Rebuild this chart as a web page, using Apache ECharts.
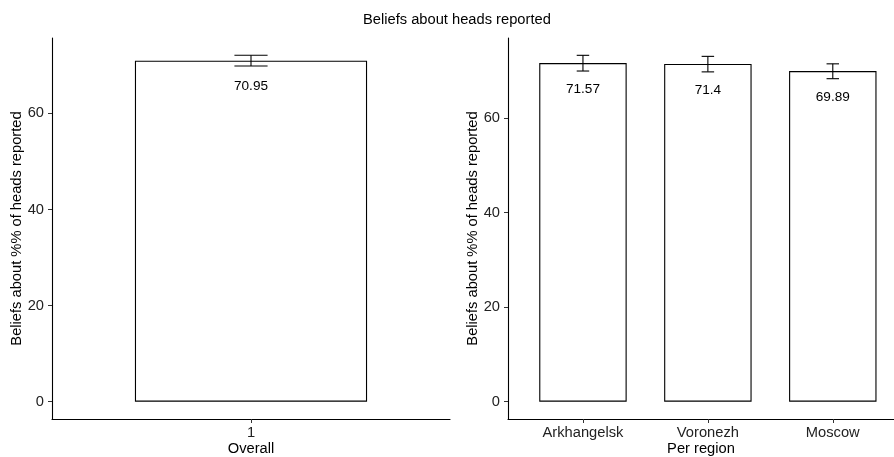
<!DOCTYPE html>
<html><head><meta charset="utf-8">
<script src="https://cdn.jsdelivr.net/npm/echarts@6/dist/echarts.min.js"></script>
<style>html,body{margin:0;padding:0;background:#fff}#c{width:894px;height:457px}</style>
</head><body><div id="c"></div>
<script>
const overallCategories = ['1'];
const overallValues = [70.95];
const overallLower = [69.85];
const overallUpper = [72.08];

const regionCategories = ['Arkhangelsk', 'Voronezh', 'Moscow'];
const regionValues = [71.57, 71.4, 69.89];
const regionLower = [69.9, 69.72, 68.28];
const regionUpper = [73.22, 73.0, 71.42];

const yTicks = [0, 20, 40, 60];
const FONT = 'Liberation Sans, Arial, Helvetica, sans-serif';

function pos(cats) { return cats.map((c, i) => i + 1); }

const chart = echarts.init(document.getElementById('c'), null, {renderer: 'canvas'});

function xAxisFor(cats, gridIndex, name, max) {
  const vals = pos(cats);
  return {
    type: 'value', gridIndex, min: 0.4, max,
    name, nameLocation: 'middle', nameGap: 22, nameMoveOverlap: false,
    nameTextStyle: {fontFamily: FONT, fontSize: 14.7, color: '#000', verticalAlign: 'top'},
    axisLine: {show: true, onZero: false, lineStyle: {color: '#000', width: 1.1}},
    axisTick: {show: true, length: 4, lineStyle: {color: '#333'}, customValues: vals},
    axisLabel: {show: true, customValues: vals, margin: 6, fontFamily: FONT, fontSize: 14.7, color: '#222',
      formatter: v => cats[Math.round(v) - 1] || ''},
    splitLine: {show: false}
  };
}
function yAxisFor(gridIndex, min, max) {
  return {
    type: 'value', gridIndex, min, max,
    name: 'Beliefs about %% of heads reported', nameLocation: 'middle', nameGap: 28, nameMoveOverlap: false,
    nameTextStyle: {fontFamily: FONT, fontSize: 14.7, color: '#000'},
    axisLine: {show: true, onZero: false, lineStyle: {color: '#000', width: 1.1}},
    axisTick: {show: true, length: 4, lineStyle: {color: '#333'}, customValues: yTicks},
    axisLabel: {show: true, customValues: yTicks, margin: 8, fontFamily: FONT, fontSize: 14.7, color: '#222'},
    splitLine: {show: false}
  };
}

function errSeries(cats, lower, upper, idx) {
  return {
    type: 'custom', xAxisIndex: idx, yAxisIndex: idx, z: 10,
    data: cats.map((c, i) => [i + 1, lower[i], upper[i]]),
    renderItem: function (params, api) {
      const x = api.value(0), lo = api.value(1), hi = api.value(2);
      const pLo = api.coord([x, lo]), pHi = api.coord([x, hi]);
      const l1 = api.coord([x - 0.05, lo]), r1 = api.coord([x + 0.05, lo]);
      const l2 = api.coord([x - 0.05, hi]), r2 = api.coord([x + 0.05, hi]);
      const style = {stroke: '#000', lineWidth: 1.1};
      return {type: 'group', children: [
        {type: 'line', shape: {x1: pLo[0], y1: pLo[1], x2: pHi[0], y2: pHi[1]}, style},
        {type: 'line', shape: {x1: l1[0], y1: l1[1], x2: r1[0], y2: r1[1]}, style},
        {type: 'line', shape: {x1: l2[0], y1: l2[1], x2: r2[0], y2: r2[1]}, style}
      ]};
    }
  };
}

function barSeries(cats, values, idx, width) {
  return {
    type: 'bar', xAxisIndex: idx, yAxisIndex: idx, barWidth: width,
    data: cats.map((c, i) => [i + 1, values[i]]),
    itemStyle: {color: '#fff', borderColor: '#000', borderWidth: 1.1},
    label: {show: true, position: 'insideTop', distance: 19, fontFamily: FONT, fontSize: 13.6, color: '#000',
      formatter: p => String(p.value[1])},
    emphasis: {disabled: true}, animation: false
  };
}

const rightMax = 73.22 * 1.05, rightMin = -73.22 * 0.05;
const leftMax = 72.08 * 1.05, leftMin = -72.08 * 0.05;

chart.setOption({
  animation: false,
  backgroundColor: '#fff',
  title: {text: 'Beliefs about heads reported', left: 363, top: 12, padding: 0,
    textStyle: {fontFamily: FONT, fontSize: 14.7, fontWeight: 'normal', color: '#000'}},
  grid: [
    {left: 52, right: 444, top: 38, bottom: 38, containLabel: false, outerBoundsMode: 'none'},
    {left: 508, right: 0, top: 38, bottom: 38, containLabel: false, outerBoundsMode: 'none'}
  ],
  xAxis: [xAxisFor(overallCategories, 0, 'Overall', 1.6), xAxisFor(regionCategories, 1, 'Per region', 3.49)],
  yAxis: [yAxisFor(0, leftMin, leftMax), yAxisFor(1, rightMin, rightMax)],
  series: [
    barSeries(overallCategories, overallValues, 0, '58.33%'),
    errSeries(overallCategories, overallLower, overallUpper, 0),
    barSeries(regionCategories, regionValues, 1, '70%'),
    errSeries(regionCategories, regionLower, regionUpper, 1)
  ]
});
</script></body></html>
